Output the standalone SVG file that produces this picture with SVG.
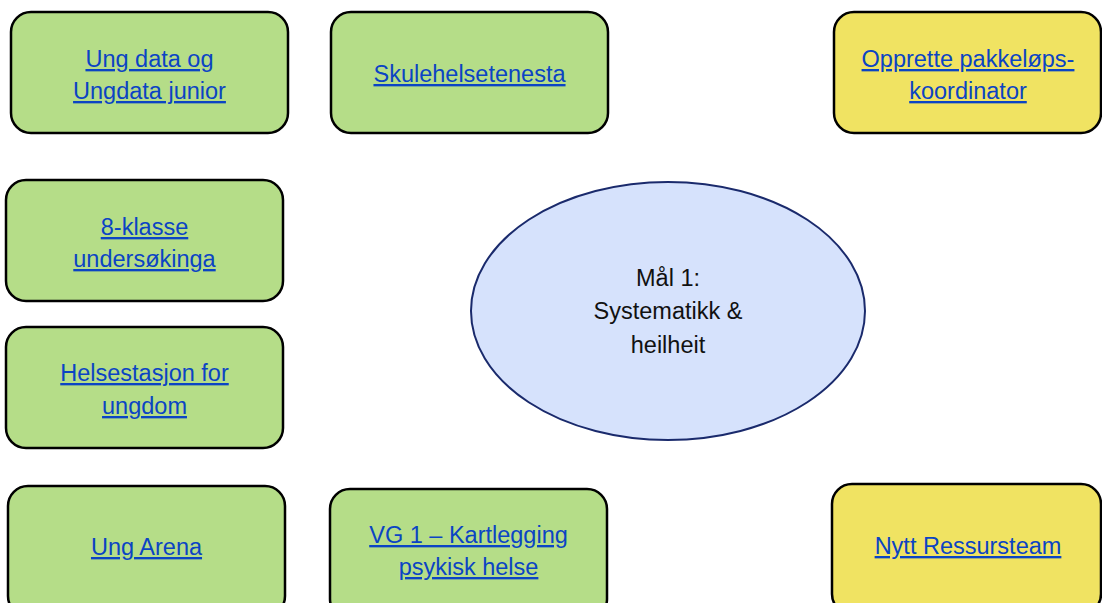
<svg xmlns="http://www.w3.org/2000/svg" width="1102" height="603" viewBox="0 0 1102 603">
  <style>
    .box { stroke: #000; stroke-width: 2.5; }
    .green { fill: #B5DD88; }
    .yellow { fill: #F0E362; }
    .link { font-family: "Liberation Sans", Arial, sans-serif; font-size: 23.5px; fill: #0B44C4; text-anchor: middle; text-decoration: underline; }
    .goal { font-family: "Liberation Sans", Arial, sans-serif; font-size: 23.5px; fill: #111; text-anchor: middle; }
  </style>
  <rect width="1102" height="603" fill="#fff"/>

  <!-- no links between the boxes -->
  <g id="connectors"></g>

  <g id="ungdata">
    <rect class="box green" x="11" y="12" width="277" height="121" rx="20"/>
    <text class="link" x="149.5" y="67">Ung data og</text>
    <text class="link" x="149.5" y="99">Ungdata junior</text>
  </g>

  <g id="skulehelsetenesta">
    <rect class="box green" x="331" y="12" width="277" height="121" rx="20"/>
    <text class="link" x="469.5" y="82">Skulehelsetenesta</text>
  </g>

  <g id="pakkelopskoordinator">
    <rect class="box yellow" x="834" y="12" width="267" height="121" rx="20"/>
    <text class="link" x="968" y="67">Opprette pakkeløps-</text>
    <text class="link" x="968" y="99">koordinator</text>
  </g>

  <g id="klasse8">
    <rect class="box green" x="6" y="180" width="277" height="121" rx="20"/>
    <text class="link" x="144.5" y="235">8-klasse</text>
    <text class="link" x="144.5" y="267">undersøkinga</text>
  </g>

  <g id="helsestasjon">
    <rect class="box green" x="6" y="327" width="277" height="121" rx="20"/>
    <text class="link" x="144.5" y="381">Helsestasjon for</text>
    <text class="link" x="144.5" y="414">ungdom</text>
  </g>

  <g id="ungarena">
    <rect class="box green" x="8" y="486" width="277" height="130" rx="20"/>
    <text class="link" x="146.5" y="555">Ung Arena</text>
  </g>

  <g id="vg1">
    <rect class="box green" x="330" y="489" width="277" height="130" rx="20"/>
    <text class="link" x="468.5" y="543">VG 1 – Kartlegging</text>
    <text class="link" x="468.5" y="575">psykisk helse</text>
  </g>

  <g id="ressursteam">
    <rect class="box yellow" x="832" y="484" width="269" height="130" rx="20"/>
    <text class="link" x="968" y="554">Nytt Ressursteam</text>
  </g>

  <g id="maal1">
    <ellipse cx="668" cy="311" rx="197" ry="129" fill="#D6E2FC" stroke="#1A2A6C" stroke-width="2"/>
    <text class="goal" x="668" y="286">Mål 1:</text>
    <text class="goal" x="668" y="319">Systematikk &amp;</text>
    <text class="goal" x="668" y="353">heilheit</text>
  </g>
</svg>
